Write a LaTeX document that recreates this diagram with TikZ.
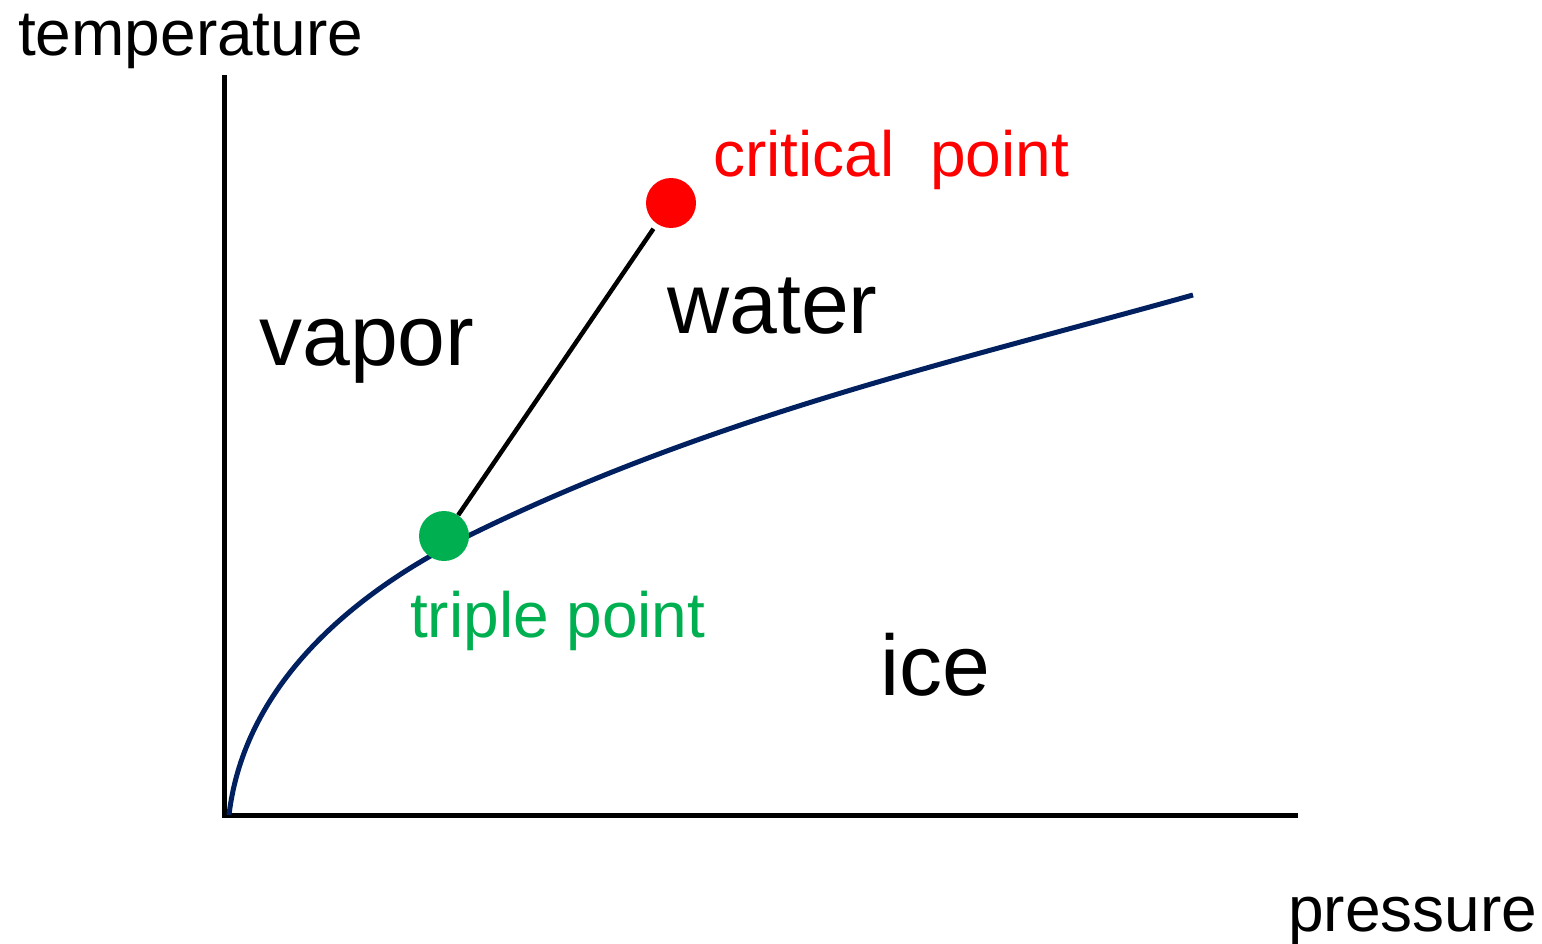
\documentclass[tikz,border=0pt]{standalone}
\usepackage{fontspec}
\setmainfont{Liberation Sans}
\definecolor{crit}{HTML}{FF0000}
\definecolor{trip}{HTML}{00B050}
\definecolor{navy}{HTML}{002060}
\begin{document}
\begin{tikzpicture}[x=1pt,y=-1pt,
  small/.style={anchor=base west,inner sep=0pt,font=\fontsize{64}{72}\selectfont},
  big/.style={anchor=base west,inner sep=0pt,font=\fontsize{86}{96}\selectfont},
  dot/.style={circle,inner sep=0pt,minimum size=50pt},
  axis/.style={line width=5.5pt,black},
]
\useasboundingbox (0,0) rectangle (1542,944);
% axes
\coordinate (ytop) at (224.5,75);
\coordinate (xend) at (1298,815.5);
\draw[axis] (ytop) -- (224.5,818.25);
\draw[axis] (221.75,815.5) -- (xend);
% labels
\node[small] (tlab) at (18,56) {temperature};
\node[small] (plab) at (1288,931) {pressure};
\node[big] (vap) at (259,365) {vapor};
\node[big] (wat) at (667,333) {water};
\node[big] (ice) at (880,695) {ice};
% curve
\coordinate (c0) at (229,815);
\coordinate (c1) at (470,535);
\coordinate (c2) at (1193,295);
\draw[navy,line width=5pt] (c0) .. controls (245,680) and (360,589) .. (c1)
  .. controls (710,417) and (953,362) .. (c2);
% points
\node[dot,fill=trip] (tp) at (444,536) {};
\node[dot,fill=crit] (cp) at (671,203) {};
\draw[black,line width=4.5pt,shorten >=6pt] (tp) -- (cp);
\node[small,text=crit] (cplab) at (713,177) {critical\ \ point};
\node[small,text=trip] (tplab) at (410,637) {triple point};
\end{tikzpicture}
\end{document}
